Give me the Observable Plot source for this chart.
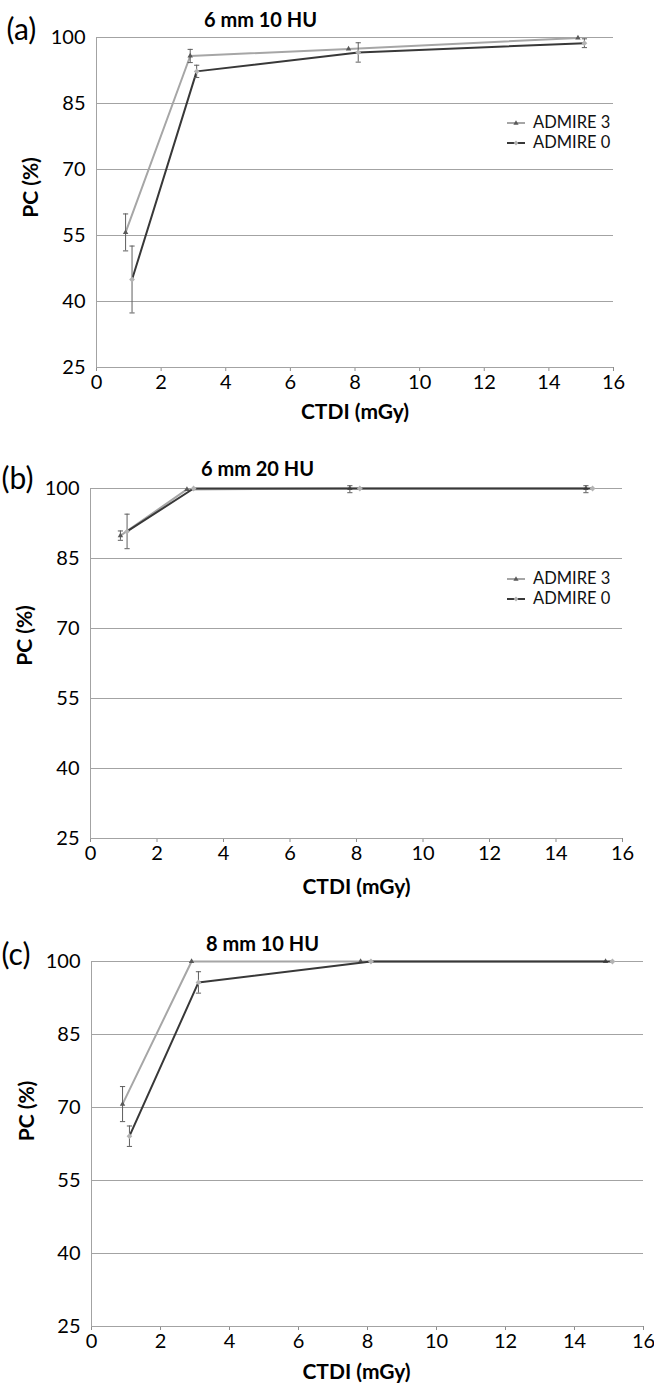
<!DOCTYPE html>
<html><head><meta charset="utf-8">
<script src="https://cdn.jsdelivr.net/npm/d3@7"></script>
<script src="https://cdn.jsdelivr.net/npm/@observablehq/plot@0.6"></script>
<style>
html,body{margin:0;background:#fff;}
#root{position:relative;width:654px;height:1393px;font-family:Lato,sans-serif;overflow:hidden;}
.panel{position:absolute;left:0;}
.panel svg{overflow:visible;}
.legend{position:absolute;font:16.5px/19.5px Lato,sans-serif;color:#111;}
.legend .row{display:flex;align-items:center;height:19.8px;line-height:19.5px;white-space:nowrap;}
.legend svg{margin-right:8px;}
g[aria-label="x-axis"] line, g[aria-label="x-axis tick"] path{stroke:#8c8c8c;}
</style></head><body><div id="root"></div>
<script>
// ---- data ----
const seriesNames = ["ADMIRE 3", "ADMIRE 0"];
const ctdiA3 = [0.9, 2.9, 7.8, 14.9];
const ctdiA0 = [1.1, 3.1, 8.1, 15.1];
const panelNames = ["6 mm 10 HU", "6 mm 20 HU", "8 mm 10 HU"];
const panelTags = ["(a)", "(b)", "(c)"];
const xTicks = [0, 2, 4, 6, 8, 10, 12, 14, 16];
const yTicks = [25, 40, 55, 70, 85, 100];
const yLabel = "PC (%)";
const xLabel = "CTDI (mGy)";

const pcA3_a = [55.7, 95.8, 97.4, 99.9];
const errA3_a = [4.2, 1.5, 0, 0];
const pcA0_a = [45.0, 92.3, 96.6, 98.7];
const errA0_a = [7.6, 1.4, 2.2, 1.0];

const pcA3_b = [89.9, 99.8, 100, 100];
const errA3_b = [1.0, 0, 0.9, 0.9];
const pcA0_b = [90.8, 100, 100, 100];
const errA0_b = [3.7, 0, 0, 0];

const pcA3_c = [70.7, 100, 100, 100];
const errA3_c = [3.6, 0, 0, 0];
const pcA0_c = [64.1, 95.7, 100, 100];
const errA0_c = [2.1, 2.2, 0, 0];

const panelData = [
  [pcA3_a, errA3_a, pcA0_a, errA0_a],
  [pcA3_b, errA3_b, pcA0_b, errA0_b],
  [pcA3_c, errA3_c, pcA0_c, errA0_c]
];

// ---- layout (not data) ----
const layouts = [
  {top: 0,   height: 440, mt: 37, mb: 73, ml: 96, mr: 41, title: [164, -25], tag: [-90, -19], ylab: [-65, -15], xlab: [0, 51], legendTop: 113},
  {top: 440, height: 465, mt: 48, mb: 67, ml: 90, mr: 32, title: [167, -27], tag: [-89, -21], ylab: [-65, -28], xlab: [0, 55], legendTop: 569},
  {top: 905, height: 488, mt: 56, mb: 67, ml: 91, mr: 11, title: [171, -25], tag: [-90, -18], ylab: [-64, -33], xlab: [-11, 52], legendTop: null}
];

const colA3line = "#a6a6a6", colA3mark = "#595959";
const colA0line = "#383838", colA0mark = "#b3b3b3";
const colErr = "#5e5e5e", colGrid = "#a3a3a3";

const capSymbol = {draw(ctx, size) { const w = Math.sqrt(size / Math.PI); ctx.moveTo(-w, 0); ctx.lineTo(w, 0); }};

const root = document.getElementById("root");

panelData.forEach(([p3, e3, p0, e0], k) => {
  const L = layouts[k];
  const a3 = ctdiA3.map((x, i) => ({series: seriesNames[0], ctdi: x, pc: p3[i], err: e3[i]}));
  const a0 = ctdiA0.map((x, i) => ({series: seriesNames[1], ctdi: x, pc: p0[i], err: e0[i]}));
  const errMarks = (rows) => {
    const r = rows.filter(d => d.err > 0);
    return [
      Plot.ruleX(r, {x: "ctdi", y1: d => d.pc - d.err, y2: d => Math.min(100.6, d.pc + d.err), stroke: colErr, strokeWidth: 1}),
      Plot.dot(r, {x: "ctdi", y: d => d.pc - d.err, symbol: capSymbol, r: 2.6, stroke: colErr, fill: "none", strokeWidth: 1}),
      Plot.dot(r, {x: "ctdi", y: d => Math.min(100.6, d.pc + d.err), symbol: capSymbol, r: 2.6, stroke: colErr, fill: "none", strokeWidth: 1})
    ];
  };
  const chart = Plot.plot({
    width: 654,
    height: L.height,
    marginTop: L.mt, marginBottom: L.mb, marginLeft: L.ml, marginRight: L.mr,
    style: {fontFamily: "Lato, sans-serif", fontSize: "20px", color: "#000", background: "#fff"},
    x: {domain: [0, 16], ticks: xTicks, tickSize: 4, tickPadding: 3, label: null, tickFormat: d => String(d)},
    y: {domain: [25, 100], ticks: yTicks, tickSize: 0, tickPadding: 11, label: null, tickFormat: d => String(d)},
    marks: [
      Plot.ruleY(yTicks, {stroke: colGrid, strokeWidth: 1}),
      Plot.ruleX([0], {stroke: colGrid, strokeWidth: 1}),
      Plot.line(a3, {x: "ctdi", y: "pc", stroke: colA3line, strokeWidth: 2}),
      ...errMarks(a3),
      Plot.dot(a3, {x: "ctdi", y: "pc", symbol: "triangle2", r: 2.6, fill: colA3mark, stroke: "none"}),
      Plot.line(a0, {x: "ctdi", y: "pc", stroke: colA0line, strokeWidth: 2}),
      ...errMarks(a0),
      Plot.dot(a0, {x: "ctdi", y: "pc", symbol: "diamond2", r: 2.6, fill: colA0mark, stroke: "none"}),
      Plot.text([panelNames[k]], {text: d => d, frameAnchor: "top-left", textAnchor: "middle", dx: L.title[0], dy: L.title[1], fontWeight: "bold", fontSize: 20, fill: "#000"}),
      Plot.text([panelTags[k]], {text: d => d, frameAnchor: "top-left", textAnchor: "start", dx: L.tag[0], dy: L.tag[1], fontSize: 30, fill: "#000"}),
      Plot.text([yLabel], {text: d => d, frameAnchor: "left", textAnchor: "middle", rotate: -90, dx: L.ylab[0], dy: L.ylab[1], fontWeight: "bold", fontSize: 21, fill: "#000"}),
      Plot.text([xLabel], {text: d => d, frameAnchor: "bottom", textAnchor: "middle", dx: L.xlab[0], dy: L.xlab[1], fontWeight: "bold", fontSize: 21, fill: "#000"})
    ]
  });
  const wrap = document.createElement("div");
  wrap.className = "panel";
  wrap.style.top = L.top + "px";
  wrap.appendChild(chart);
  root.appendChild(wrap);

  if (L.legendTop != null) {
    const lg = document.createElement("div");
    lg.className = "legend";
    lg.style.left = "507px";
    lg.style.top = L.legendTop + "px";
    const sw = [
      `<svg width="18" height="10"><line x1="0" y1="5" x2="18" y2="5" stroke="${colA3line}" stroke-width="2"/><path d="M9,2.2L11.6,6.8L6.4,6.8Z" fill="${colA3mark}"/></svg>`,
      `<svg width="18" height="10"><line x1="0" y1="5" x2="18" y2="5" stroke="${colA0line}" stroke-width="2"/><path d="M9,2.4L11.4,5L9,7.6L6.6,5Z" fill="${colA0mark}"/></svg>`
    ];
    lg.innerHTML = seriesNames.map((n, i) => `<div class="row">${sw[i]}<span>${n}</span></div>`).join("");
    root.appendChild(lg);
  }
});
</script>
</body></html>
